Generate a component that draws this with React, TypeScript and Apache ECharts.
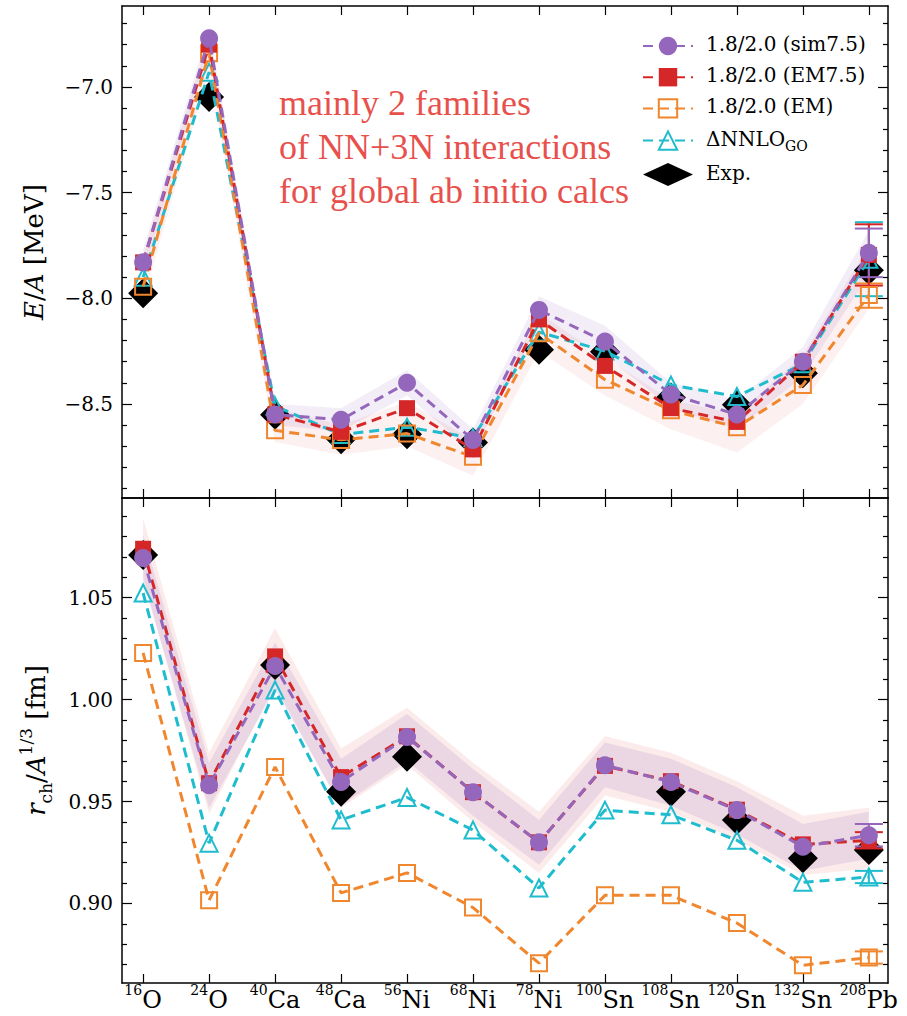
import React, { useEffect, useRef } from 'react';
import * as echarts from 'echarts';

// ---------- categories ----------
const massNumbers = ['16', '24', '40', '48', '56', '68', '78', '100', '108', '120', '132', '208'];
const elements = ['O', 'O', 'Ca', 'Ca', 'Ni', 'Ni', 'Ni', 'Sn', 'Sn', 'Sn', 'Sn', 'Pb'];

// ---------- series names ----------
const N_SIM = '1.8/2.0 (sim7.5)';
const N_EM75 = '1.8/2.0 (EM7.5)';
const N_EM = '1.8/2.0 (EM)';
const N_GO = 'ΔNNLO_GO';
const N_EXP = 'Exp.';

// ---------- top panel: E/A [MeV] ----------
const eSim75 = [-7.83, -6.77, -8.55, -8.575, -8.40, -8.67, -8.055, -8.205, -8.455, -8.55, -8.30, -7.785];
const eEM75 = [-7.83, -6.80, -8.55, -8.632, -8.52, -8.715, -8.10, -8.32, -8.52, -8.585, -8.30, -7.795];
const eEM = [-7.945, -6.84, -8.625, -8.67, -8.64, -8.75, -8.165, -8.385, -8.53, -8.61, -8.41, -7.985];
const eGO = [-7.90, -6.93, -8.51, -8.645, -8.61, -8.66, -8.16, -8.25, -8.41, -8.465, -8.31, -7.815];
const eExp = [-7.976, -7.047, -8.551, -8.667, -8.643, -8.682, -8.243, -8.253, -8.469, -8.504, -8.355, -7.867];

// uncertainty bands (top)
const eBandPurpleLow = [-7.89, -6.83, -8.60, -8.63, -8.46, -8.73, -8.12, -8.27, -8.52, -8.62, -8.37, -7.89];
const eBandPurpleHigh = [-7.77, -6.72, -8.50, -8.52, -8.34, -8.62, -7.99, -8.13, -8.40, -8.48, -8.23, -7.68];
const eBandPinkLow = [-8.01, -6.92, -8.68, -8.74, -8.70, -8.84, -8.25, -8.46, -8.62, -8.73, -8.50, -8.05];
const eBandPinkHigh = [-7.80, -6.76, -8.52, -8.60, -8.49, -8.67, -8.07, -8.28, -8.48, -8.55, -8.27, -7.75];

// error bars at 208Pb (top) [index, low, high]
const eErrSim = [11, -7.90, -7.67];
const eErrEM75 = [11, -7.94, -7.65];
const eErrEM = [11, -8.045, -7.93];
const eErrGO = [11, -7.99, -7.64];

// ---------- bottom panel: r_ch / A^(1/3) [fm] ----------
const rSim75 = [1.0695, 0.958, 1.0165, 0.9596, 0.9817, 0.9546, 0.930, 0.9678, 0.9596, 0.9458, 0.9278, 0.9335];
const rEM75 = [1.0740, 0.959, 1.0212, 0.962, 0.982, 0.9546, 0.930, 0.9675, 0.960, 0.946, 0.929, 0.931];
const rEM = [1.0229, 0.9016, 0.967, 0.9052, 0.915, 0.898, 0.8707, 0.904, 0.904, 0.8904, 0.8697, 0.8735];
const rGO = [1.0523, 0.9296, 1.0047, 0.941, 0.952, 0.936, 0.9076, 0.9458, 0.9435, 0.931, 0.9104, 0.913];
const rExp = [1.071, null, 1.017, 0.9548, 0.972, null, null, null, 0.9548, 0.9409, 0.9222, 0.9262];

const rBandPinkLow = [1.060, 0.944, 1.007, 0.947, 0.968, 0.940, 0.915, 0.953, 0.945, 0.931, 0.914, 0.917];
const rBandPinkHigh = [1.089, 0.974, 1.035, 0.976, 0.996, 0.969, 0.945, 0.982, 0.974, 0.960, 0.943, 0.947];
const rBandPurpleLow = [1.058, 0.947, 1.005, 0.948, 0.970, 0.943, 0.919, 0.957, 0.948, 0.934, 0.916, 0.922];
const rBandPurpleHigh = [1.081, 0.969, 1.028, 0.971, 0.993, 0.966, 0.941, 0.979, 0.971, 0.957, 0.939, 0.945];

const rErrSim = [11, 0.928, 0.939];
const rErrEM75 = [11, 0.927, 0.935];
const rErrEM = [11, 0.8705, 0.8765];
const rErrGO = [11, 0.910, 0.916];

// ---------- ticks ----------
const topMajorTicks = [-8.5, -8.0, -7.5, -7.0];
const topMinorTicks = [-8.9, -8.8, -8.7, -8.6, -8.4, -8.3, -8.2, -8.1, -7.9, -7.8, -7.7, -7.6, -7.4, -7.3, -7.2, -7.1, -6.9, -6.8, -6.7];
const botMajorTicks = [0.90, 0.95, 1.00, 1.05];
const botMinorTicks = [0.87, 0.88, 0.89, 0.91, 0.92, 0.93, 0.94, 0.96, 0.97, 0.98, 0.99, 1.01, 1.02, 1.03, 1.04, 1.06, 1.07, 1.08, 1.09];

const annotationLines = ['mainly 2 families', 'of NN+3N interactions', 'for global ab initio calcs'];

// ---------- style ----------
const C_PURPLE = '#9467bd';
const C_RED = '#d62728';
const C_ORANGE = '#f0872e';
const C_CYAN = '#1fbcce';
const FONT = 'DejaVu Serif';

const X_MIN = -0.32;
const X_MAX = 11.29;
const TOP_MIN = -8.945;
const TOP_MAX = -6.617;
const BOT_MIN = 0.861;
const BOT_MAX = 1.0989;

const idx = massNumbers.map((_, i) => i);

function lineSeries(name: string, vals: number[], gi: number, color: string, symbol: string, size: number, filled: boolean, z: number) {
  return {
    type: 'line',
    name,
    xAxisIndex: gi * 2,
    yAxisIndex: gi * 4,
    data: vals.map((v, i) => [i, v]),
    symbol,
    symbolSize: size,
    showSymbol: true,
    lineStyle: { color, width: 3, type: [10, 6] },
    itemStyle: filled
      ? { color, opacity: 1 }
      : { color: 'rgba(255,255,255,0)', borderColor: color, borderWidth: 2, opacity: 1 },
    emphasis: { disabled: true },
    z,
  };
}

function bandSeries(key: string, low: number[], high: number[], gi: number, color: string) {
  return {
    type: 'custom',
    name: key,
    xAxisIndex: gi * 2,
    yAxisIndex: gi * 4,
    data: low.map((v, i) => [i, v, high[i]]),
    encode: { x: 0, y: [1, 2] },
    silent: true,
    z: 1,
    renderItem: (params: any, api: any) => {
      if (params.dataIndex !== 0) return null;
      const upper = high.map((v, i) => api.coord([i, v]));
      const lower = low.map((v, i) => api.coord([i, v])).reverse();
      return { type: 'polygon', shape: { points: upper.concat(lower) }, style: { fill: color } };
    },
  };
}

function errSeries(key: string, d: number[], gi: number, color: string) {
  return {
    type: 'custom',
    name: key,
    xAxisIndex: gi * 2,
    yAxisIndex: gi * 4,
    data: [d],
    encode: { x: 0, y: [1, 2] },
    z: 3,
    silent: true,
    renderItem: (params: any, api: any) => {
      const x = api.value(0);
      const lo = api.coord([x, api.value(1)]);
      const hi = api.coord([x, api.value(2)]);
      const w = 14;
      const st = { stroke: color, lineWidth: 2 };
      return {
        type: 'group',
        children: [
          { type: 'line', shape: { x1: lo[0], y1: lo[1], x2: hi[0], y2: hi[1] }, style: st },
          { type: 'line', shape: { x1: lo[0] - w, y1: lo[1], x2: lo[0] + w, y2: lo[1] }, style: st },
          { type: 'line', shape: { x1: hi[0] - w, y1: hi[1], x2: hi[0] + w, y2: hi[1] }, style: st },
        ],
      };
    },
  };
}

function expSeries(vals: (number | null)[], gi: number) {
  return {
    type: 'scatter',
    name: N_EXP,
    xAxisIndex: gi * 2,
    yAxisIndex: gi * 4,
    data: vals.map((v, i) => (v == null ? null : [i, v])).filter((d) => d != null),
    symbol: 'diamond',
    symbolSize: 30,
    itemStyle: { color: '#000', opacity: 1 },
    emphasis: { disabled: true },
    z: 2,
  };
}

const xLabelRich = {
  s: { fontFamily: FONT, fontSize: 14, color: '#000', verticalAlign: 'top' },
  n: { fontFamily: FONT, fontSize: 24, color: '#000', padding: [5, 0, 0, 0] },
};

function xAxis(gi: number, position: string, showLabels: boolean) {
  return {
    type: 'value',
    gridIndex: gi,
    position,
    min: X_MIN,
    max: X_MAX,
    axisLine: { show: true, onZero: false, lineStyle: { color: '#000', width: 1.5 } },
    axisTick: { show: true, inside: true, length: 9, customValues: idx, lineStyle: { color: '#000', width: 1.2 } },
    axisLabel: {
      show: showLabels,
      customValues: idx,
      margin: 0,
      formatter: (v: number) => {
        const i = Math.round(v);
        return `{s|${massNumbers[i]}}{n|${elements[i]}}`;
      },
      rich: xLabelRich,
    },
    splitLine: { show: false },
  };
}

function yAxis(gi: number, position: string, min: number, max: number, ticks: number[], len: number, opts: any = {}) {
  return {
    type: 'value',
    gridIndex: gi,
    position,
    min,
    max,
    axisLine: { show: opts.line ?? false, onZero: false, lineStyle: { color: '#000', width: 1.5 } },
    axisTick: { show: true, inside: true, length: len, customValues: ticks, lineStyle: { color: '#000', width: 1.2 } },
    axisLabel: opts.labels
      ? { show: true, customValues: ticks, formatter: opts.formatter, fontFamily: FONT, fontSize: 20, color: '#000', margin: 9 }
      : { show: false },
    splitLine: { show: false },
    ...(opts.name
      ? {
          name: opts.name,
          nameLocation: 'middle',
          nameRotate: 90,
          nameGap: opts.nameGap,
          nameTextStyle: { rich: opts.nameRich },
        }
      : {}),
  };
}

const nameMain = { fontFamily: FONT, fontSize: 26, color: '#000', padding: [6, 0, 5, 0] };
const nameItal = { ...nameMain, fontStyle: 'italic' };

export default function App() {
  const ref = useRef<HTMLDivElement>(null);
  useEffect(() => {
    if (!ref.current) return;
    const chart = echarts.init(ref.current, null, { renderer: 'svg' });
    const topFmt = (v: number) => (v < 0 ? '\u2212' : '') + Math.abs(v).toFixed(1);
    const botFmt = (v: number) => v.toFixed(2);
    const option: any = {
      animation: false,
      backgroundColor: '#fff',
      grid: [
        { left: 122, right: 19, top: 6, height: 492, outerBoundsMode: 'none', containLabel: false },
        { left: 122, right: 19, top: 498, height: 485, outerBoundsMode: 'none', containLabel: false },
      ],
      xAxis: [
        xAxis(0, 'bottom', false),
        xAxis(0, 'top', false),
        xAxis(1, 'bottom', true),
        xAxis(1, 'top', false),
      ],
      yAxis: [
        yAxis(0, 'left', TOP_MIN, TOP_MAX, topMajorTicks, 10, {
          line: true,
          labels: true,
          formatter: topFmt,
          name: '{i|E}{n|/}{i|A}{n| [MeV]}',
          nameGap: 70,
          nameRich: { i: nameItal, n: nameMain },
        }),
        yAxis(0, 'left', TOP_MIN, TOP_MAX, topMinorTicks, 5),
        yAxis(0, 'right', TOP_MIN, TOP_MAX, topMajorTicks, 10, { line: true }),
        yAxis(0, 'right', TOP_MIN, TOP_MAX, topMinorTicks, 5),
        yAxis(1, 'left', BOT_MIN, BOT_MAX, botMajorTicks, 10, {
          line: true,
          labels: true,
          formatter: botFmt,
          name: '{i|r}{sub|ch}{n|/}{i|A}{sup|1/3}{n| [fm]}',
          nameGap: 68,
          nameRich: {
            i: nameItal,
            n: nameMain,
            sub: { fontFamily: FONT, fontSize: 17, color: '#000', verticalAlign: 'bottom' },
            sup: { fontFamily: FONT, fontSize: 17, color: '#000', verticalAlign: 'top' },
          },
        }),
        yAxis(1, 'left', BOT_MIN, BOT_MAX, botMinorTicks, 5),
        yAxis(1, 'right', BOT_MIN, BOT_MAX, botMajorTicks, 10, { line: true }),
        yAxis(1, 'right', BOT_MIN, BOT_MAX, botMinorTicks, 5),
      ],
      legend: {
        data: [N_SIM, N_EM75, N_EM, N_GO, N_EXP],
        orient: 'vertical',
        left: 637,
        top: 29,
        itemWidth: 50,
        itemHeight: 23,
        itemGap: 10,
        selectedMode: false,
        formatter: (name: string) => (name === N_GO ? '{n|ΔNNLO}{s|GO}' : `{n|${name}}`),
        textStyle: {
          fontFamily: FONT,
          fontSize: 20,
          color: '#000',
          padding: [0, 0, 0, 8],
          rich: {
            n: { fontFamily: FONT, fontSize: 20, color: '#000', padding: [0, 0, 4, 0] },
            s: { fontFamily: FONT, fontSize: 14, color: '#000', verticalAlign: 'bottom' },
          },
        },
      },
      graphic: annotationLines.map((t, i) => ({
        type: 'text',
        left: 279,
        top: 85 + i * 44,
        style: { text: t, font: '36px "Liberation Serif"', fill: '#e8504c' },
        silent: true,
      })),
      series: [
        bandSeries('topPurple', eBandPurpleLow, eBandPurpleHigh, 0, 'rgba(148,103,189,0.12)'),
        bandSeries('topPink', eBandPinkLow, eBandPinkHigh, 0, 'rgba(230,110,110,0.10)'),
        bandSeries('botPink', rBandPinkLow, rBandPinkHigh, 1, 'rgba(230,110,110,0.14)'),
        bandSeries('botPurple', rBandPurpleLow, rBandPurpleHigh, 1, 'rgba(148,103,189,0.15)'),
        expSeries(eExp, 0),
        expSeries(rExp, 1),
        lineSeries(N_GO, eGO, 0, C_CYAN, 'triangle', 17, false, 4),
        lineSeries(N_GO, rGO, 1, C_CYAN, 'triangle', 17, false, 4),
        lineSeries(N_EM, eEM, 0, C_ORANGE, 'rect', 16, false, 5),
        lineSeries(N_EM, rEM, 1, C_ORANGE, 'rect', 16, false, 5),
        lineSeries(N_EM75, eEM75, 0, C_RED, 'rect', 16, true, 6),
        lineSeries(N_EM75, rEM75, 1, C_RED, 'rect', 16, true, 6),
        lineSeries(N_SIM, eSim75, 0, C_PURPLE, 'circle', 18, true, 7),
        lineSeries(N_SIM, rSim75, 1, C_PURPLE, 'circle', 18, true, 7),
        errSeries('errTopGO', eErrGO, 0, C_CYAN),
        errSeries('errTopEM', eErrEM, 0, C_ORANGE),
        errSeries('errTopEM75', eErrEM75, 0, C_RED),
        errSeries('errTopSim', eErrSim, 0, C_PURPLE),
        errSeries('errBotGO', rErrGO, 1, C_CYAN),
        errSeries('errBotEM', rErrEM, 1, C_ORANGE),
        errSeries('errBotEM75', rErrEM75, 1, C_RED),
        errSeries('errBotSim', rErrSim, 1, C_PURPLE),
      ],
    };
    chart.setOption(option);
    return () => chart.dispose();
  }, []);
  return (
    <div
      ref={ref}
      style={{ position: 'fixed', left: 0, top: 0, width: 907, height: 1016, background: '#fff' }}
    />
  );
}
